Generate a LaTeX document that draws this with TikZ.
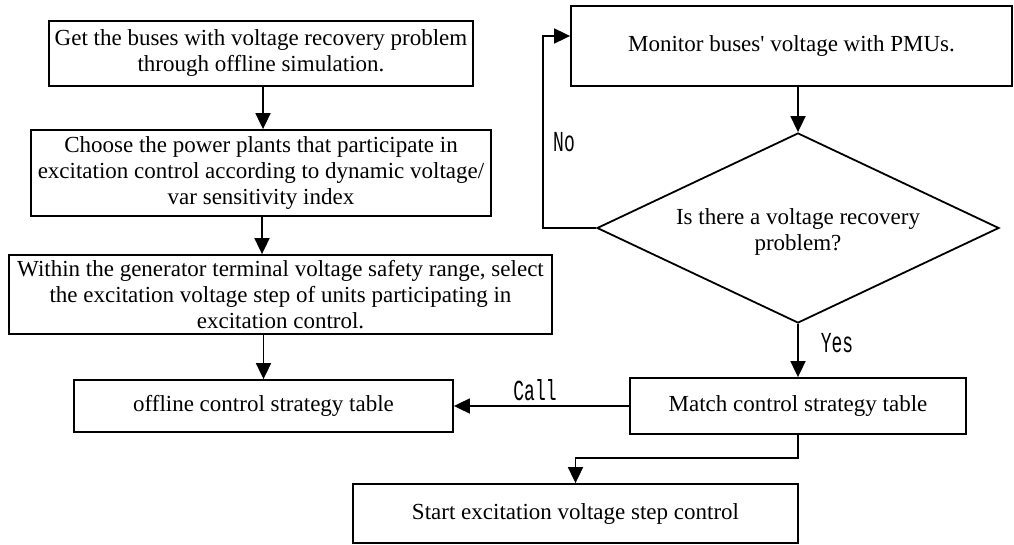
\documentclass[tikz,border=0pt]{standalone}
\usepackage{fontspec}
\setmainfont{Liberation Serif}[Ligatures=TeXOff]
\newfontfamily\lblfont{Liberation Mono}[FakeStretch=0.62]
\usetikzlibrary{arrows.meta,shapes.geometric,calc}
\begin{document}
\begin{tikzpicture}[x=1pt,y=-1pt,
  box/.style={draw,line width=1.8pt,inner sep=0pt,align=center,
    font=\fontsize{23}{26}\selectfont},
  txt/.style={inner sep=0pt,align=center,font=\fontsize{23}{26}\selectfont},
  arr/.style={line width=1.8pt,-{Triangle[length=16pt,width=15pt]}},
  lbl/.style={inner sep=0pt,font=\lblfont\fontsize{29}{30}\selectfont}]
\useasboundingbox (0,0) rectangle (1014,545);
% left column
\node[box,minimum width=424pt,minimum height=65pt] (b1) at (261,53.5)
  {Get the buses with voltage recovery problem\\through offline simulation.};
\node[box,minimum width=460pt,minimum height=86pt] (b2) at (261,173)
  {Choose the power plants that participate in\\excitation control according to dynamic voltage/\\var sensitivity index};
\node[box,minimum width=543pt,minimum height=79pt] (b3) at (280.5,294.5)
  {Within the generator terminal voltage safety range, select\\the excitation voltage step of units participating in\\excitation control.};
\node[box,minimum width=379pt,minimum height=52pt] (b4) at (263.5,406)
  {offline control strategy table};
% right column
\node[box,minimum width=441pt,minimum height=80pt] (mon) at (791.5,46)
  {Monitor buses' voltage with PMUs.};
\node[draw,line width=1.8pt,diamond,inner sep=0pt,minimum width=402pt,minimum height=190pt] (dec) at (798,228) {};
\node[txt] (dect) at (798,232) {Is there a voltage recovery\\problem?};
\node[box,minimum width=336pt,minimum height=56pt] (mat) at (798,406)
  {Match control strategy table};
\node[box,minimum width=445pt,minimum height=59pt] (st) at (575.5,513.5)
  {Start excitation voltage step control};
% labels
\node[lbl] (no) at (564,142) {No};
\node[lbl] (yes) at (837,343) {Yes};
\node[lbl] (call) at (535,390) {Call};
% connectors
\draw[arr] ([xshift=2pt]b1.south) -- ([xshift=2pt]b1.south |- b2.north);
\draw[arr] ([xshift=1pt]b2.south) -- ([xshift=1pt]b2.south |- b3.north);
\draw[arr] (b4.north |- b3.south) -- (b4.north);
\draw[arr] (dec.north |- mon.south) -- (dec.north);
\draw[arr] (dec.south) -- (mat.north);
\draw[arr] (mat.west) -- (mat.west -| b4.east);
\coordinate (nox) at (543,228);
\draw[arr] (dec.west) -- (nox) |- ([yshift=10pt]mon.west);
\draw[arr] (mat.south) -- ++(0,23) -| (st.north);
\end{tikzpicture}
\end{document}
